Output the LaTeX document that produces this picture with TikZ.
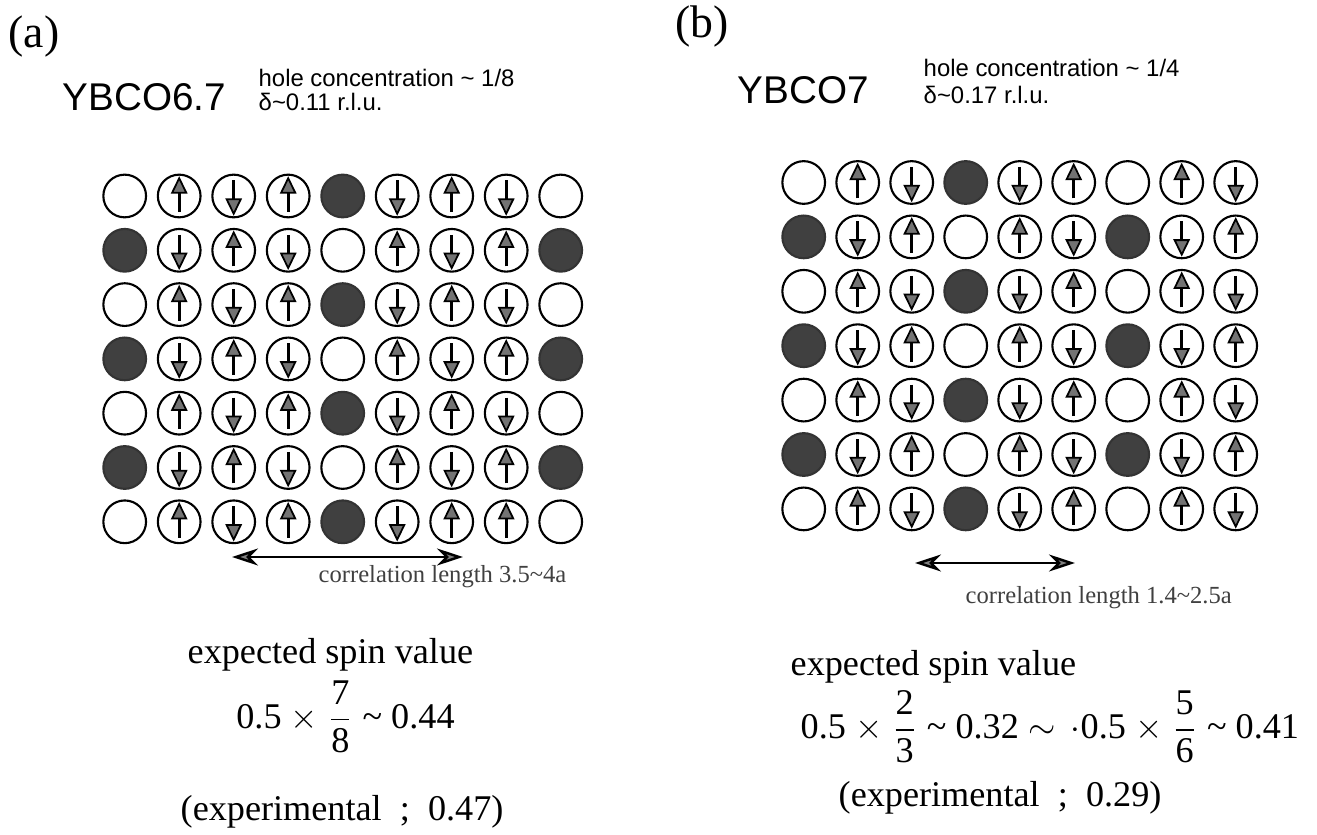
\documentclass[tikz,border=0pt]{standalone}
\usepackage{amsmath}
\usepackage{fontspec}
\setmainfont{Liberation Serif}
\newfontfamily\helv{Liberation Sans}
\usetikzlibrary{arrows.meta,calc}

\begin{document}
\begin{tikzpicture}[
  lbl/.style={anchor=west, inner sep=0pt},
  tag/.style={lbl, font=\fontsize{13}{15}\selectfont},
  compound/.style={lbl, font=\helv\fontsize{11}{13}\selectfont},
  note/.style={lbl, font=\helv\fontsize{6.8}{8}\selectfont},
  corrlbl/.style={lbl, font=\fontsize{7}{8}\selectfont, text=black!75},
  spintxt/.style={lbl, font=\fontsize{10.3}{12}\selectfont},
  site/.style={circle, draw, line width=0.6pt, minimum size=4.27mm, inner sep=0pt},
  siteo/.style={site},
  siteh/.style={site, fill=black!75, draw=black!80},
  spin/.style={line width=0.8pt, -{Triangle[length=1.75mm, width=1.65mm, fill=black!55, line width=0.5pt]}},
  siteu/.style={site, path picture={\draw[spin] ([yshift=-1.6mm]path picture bounding box.center) -- ([yshift=-0.15mm]path picture bounding box.north);}},
  sited/.style={site, path picture={\draw[spin] ([yshift=1.55mm]path picture bounding box.center) -- ([yshift=0.15mm]path picture bounding box.south);}},
  corr/.style={line width=0.7pt, {Stealth[length=2.6mm, width=1.7mm, fill=black!50]}-{Stealth[length=2.6mm, width=1.7mm, fill=black!50]}}
]
\useasboundingbox (0,0) rectangle (13.17,-8.35);

% panel (a): YBCO6.7
\node[tag] (taga) at (0.08,-0.37) {(a)};
\node[compound] (cmpa) at (0.62,-0.97) {YBCO6.7};
\node[note] (hca) at (2.58,-0.78) {hole concentration \textasciitilde{} 1/8};
\node[note] (dla) at (2.58,-1.02) {δ\textasciitilde0.11 r.l.u.};

\foreach \row [count=\r] in {{o,u,d,u,h,d,u,d,o},{h,d,u,d,o,u,d,u,h},
    {o,u,d,u,h,d,u,d,o},{h,d,u,d,o,u,d,u,h},{o,u,d,u,h,d,u,d,o},
    {h,d,u,d,o,u,d,u,h},{o,u,d,u,h,d,u,u,o}}
  \foreach \s [count=\c] in \row
    \node[site\s] (a\r\c) at ({1.247+0.545*(\c-1)},{-1.96-0.543*(\r-1)}) {};

\coordinate (cla) at (2.32,-5.57);
\coordinate (cra) at (4.63,-5.57);
\draw[corr] (cla) -- (cra);
\node[corrlbl] (corra) at (3.18,-5.77) {correlation length 3.5\textasciitilde4a};

\node[spintxt] (expa) at (1.87,-6.55) {expected spin value};
\node[spintxt, anchor=center] (vala) at (3.455,-7.17)
  {0.5 $\times$ $\dfrac{\text{7}}{\text{8}}$ \textasciitilde{} 0.44};
\node[spintxt] (expta) at (1.80,-8.12) {(experimental\ \ ;\ \ 0.47)};

% panel (b): YBCO7
\node[tag] (tagb) at (6.75,-0.27) {(b)};
\node[compound] (cmpb) at (7.37,-0.90) {YBCO7};
\node[note] (hcb) at (9.23,-0.68) {hole concentration \textasciitilde{} 1/4};
\node[note] (dlb) at (9.23,-0.95) {δ\textasciitilde0.17 r.l.u.};

\foreach \row [count=\r] in {{o,u,d,h,d,u,o,u,d},{h,d,u,o,u,d,h,d,u},
    {o,u,d,h,d,u,o,u,d},{h,d,u,o,u,d,h,d,u},{o,u,d,h,d,u,o,u,d},
    {h,d,u,o,u,d,h,d,u},{o,u,d,h,d,u,o,u,d}}
  \foreach \s [count=\c] in \row
    \node[site\s] (b\r\c) at ({8.037+0.540*(\c-1)},{-1.825-0.544*(\r-1)}) {};

\coordinate (clb) at (9.15,-5.63);
\coordinate (crb) at (10.75,-5.63);
\draw[corr] (clb) -- (crb);
\node[corrlbl] (corrb) at (9.65,-5.98) {correlation length 1.4\textasciitilde2.5a};

\node[spintxt] (expb) at (7.90,-6.67) {expected spin value};
\node[spintxt] (valb) at (8.00,-7.27)
  {0.5 $\times$ $\dfrac{\text{2}}{\text{3}}$ \textasciitilde{} 0.32 $\sim\,\cdot$0.5 $\times$ $\dfrac{\text{5}}{\text{6}}$ \textasciitilde{} 0.41};
\node[spintxt] (exptb) at (8.38,-7.98) {(experimental\ \ ;\ \ 0.29)};
\end{tikzpicture}
\end{document}
